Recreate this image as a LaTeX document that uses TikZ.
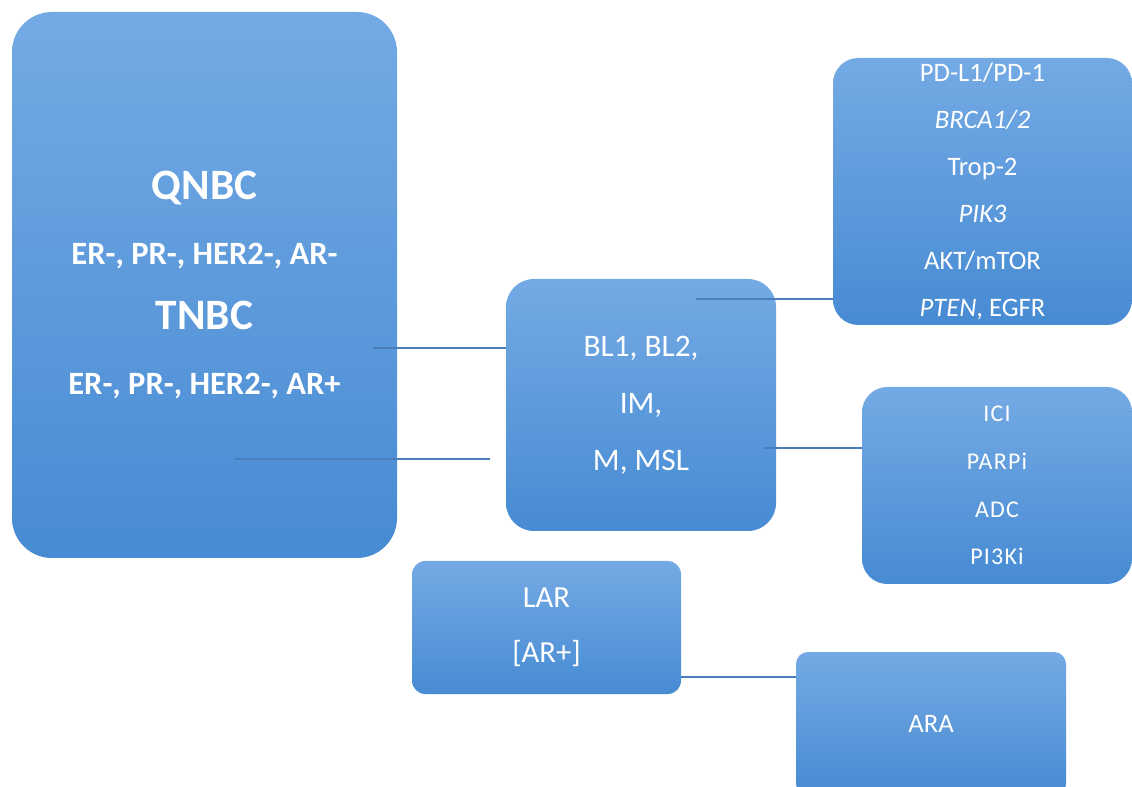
\documentclass[tikz,border=0pt]{standalone}
\usepackage{fontspec}
\setmainfont{Carlito}
\newfontfamily\spacedfont{Carlito}[LetterSpace=5]
\usetikzlibrary{calc}
\definecolor{boxtop}{HTML}{74AAE4}
\definecolor{boxmid}{HTML}{5AA0E6}
\definecolor{boxbottom}{HTML}{478BD3}
\definecolor{linkblue}{HTML}{4A7EBB}
\tikzset{
  subtype/.style={
    shape = rectangle,
    top color = boxtop,
    middle color = boxmid,
    bottom color = boxbottom,
    draw = none,
    text = white,
    align = center,
    inner sep = 0pt
  },
  link/.style={
    draw = linkblue,
    line width = 1.5pt
  }
}

\begin{document}
\begin{tikzpicture}[x=0.75pt,y=-0.75pt]
  \useasboundingbox (0,0) rectangle (1132,787);
  % boxes
  \node[subtype, rounded corners=30pt, minimum width=288.75pt, minimum height=409.5pt,
        font=\bfseries\fontsize{24.4}{48.75}\selectfont] (qnbc) at (204.5,285)
        {{\fontsize{32.5}{48.75}\selectfont QNBC}\\ER-, PR-, HER2-, AR-\\{\fontsize{32.5}{48.75}\selectfont TNBC}\\ER-, PR-, HER2-, AR+};
  \node[subtype, rounded corners=21pt, minimum width=202.5pt, minimum height=189pt,
        font=\fontsize{23.5}{42.75}\selectfont] (mid) at (641,405)
        {BL1, BL2,\\IM,\\M, MSL};
  \node[subtype, rounded corners=19pt, minimum width=224.25pt, minimum height=200.25pt,
        font=\fontsize{20}{35.25}\selectfont] (targets) at (982.5,191.5)
        {PD-L1/PD-1\\\textit{BRCA1/2}\\Trop-2\\\textit{PIK3}\\AKT/mTOR\\\textit{PTEN}, EGFR};
  \node[subtype, rounded corners=19pt, minimum width=202.5pt, minimum height=147.75pt,
        font=\spacedfont\fontsize{18}{35.8}\selectfont] (drugs) at (997,485.5)
        {ICI\\PARPi\\ADC\\PI3Ki};
  \node[subtype, rounded corners=10pt, minimum width=201.75pt, minimum height=99.75pt,
        font=\fontsize{23}{41}\selectfont] (lar) at (546.5,627.5)
        {LAR\\{[}AR+{]}};
  \node[subtype, rounded corners=9pt, minimum width=202.5pt, minimum height=108pt,
        font=\fontsize{20}{24}\selectfont] (ara) at (931,724)
        {ARA};
  % connectors
  \coordinate (qnbc-out1) at (373,348);
  \coordinate (qnbc-out2) at (235,459);
  \coordinate (mid-in2) at (490,459);
  \coordinate (mid-out1) at (696,299);
  \coordinate (mid-out2) at (764,448);
  \coordinate (lar-out) at ($(lar.east)+(0,49.5)$);
  \draw[link] (qnbc-out1) -- (mid.west |- qnbc-out1);
  \draw[link] (qnbc-out2) -- (mid-in2);
  \draw[link] (mid-out1) -- (targets.west |- mid-out1);
  \draw[link] (mid-out2) -- (drugs.west |- mid-out2);
  \draw[link] (lar-out) -- (ara.west |- lar-out);
\end{tikzpicture}
\end{document}
